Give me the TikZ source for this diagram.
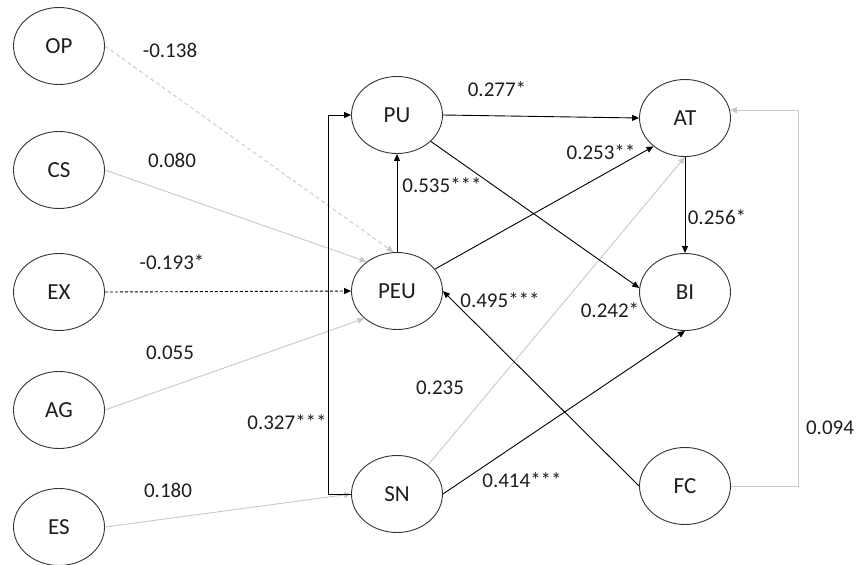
\documentclass[tikz,border=0pt]{standalone}
\usepackage{fontspec}
\setmainfont{Carlito}
\usetikzlibrary{shapes.geometric,arrows.meta}
\definecolor{lgray}{RGB}{200,200,200}
\definecolor{txt}{RGB}{30,30,30}
\begin{document}
\begin{tikzpicture}[x=1pt,y=-1pt,
  lv/.style={draw=black!80,ellipse,minimum width=91pt,minimum height=77pt,inner sep=0pt,line width=0.9pt,text=txt,font=\fontsize{23}{27}\selectfont},
  lbl/.style={text=txt,font=\fontsize{21}{25}\selectfont,inner sep=0pt},
  tip/.style={-{Triangle[length=7pt,width=6pt]}},
  darkarrow/.style={tip,draw=black,line width=0.9pt},
  grayarrow/.style={tip,draw=lgray,line width=0.9pt}]
\useasboundingbox (0,0) rectangle (857,565);
% latent variables
\node[lv] (OP) at (59,46) {OP};
\node[lv] (CS) at (59,170) {CS};
\node[lv] (EX) at (59,292) {EX};
\node[lv] (AG) at (59,410) {AG};
\node[lv] (ES) at (59,527) {ES};
\node[lv] (PU) at (397,115) {PU};
\node[lv] (PEU) at (397,291) {PEU};
\node[lv] (SN) at (397,494) {SN};
\node[lv] (AT) at (685,118) {AT};
\node[lv] (BI) at (685,292) {BI};
\node[lv] (FC) at (685,486) {FC};
% gray (non-significant) paths
\draw[grayarrow,dashed,dash pattern=on 4pt off 3pt] (OP.east) -- (PEU.95);
\draw[grayarrow] (CS.east) -- (PEU.136);
\draw[grayarrow] (AG.east) -- (PEU.220);
\draw[grayarrow] (ES.east) -- (SN.west);
\draw[grayarrow] (SN.43) -- (AT.south);
\draw[grayarrow] (FC.east) -- ++(67,0) |- (AT.10);
% dark (significant) paths
\draw[darkarrow,dash pattern=on 3pt off 2pt] (EX.east) -- (PEU.west);
\draw[darkarrow] (SN.west) -- ++(-23,0) |- (PU.west);
\draw[darkarrow] (PEU.north) -- (PU.south);
\draw[darkarrow] (PU.east) -- (AT.west);
\draw[darkarrow] (PU.322) -- (BI.175);
\draw[darkarrow] (PEU.30) -- (AT.222);
\draw[darkarrow] (AT.south) -- (BI.north);
\draw[darkarrow] (FC.west) -- (PEU.east);
\draw[darkarrow] (SN.east) -- (BI.south);
% labels
\node[lbl] (l1) at (170,50) {-0.138};
\node[lbl] (l2) at (172,160) {0.080};
\node[lbl] (l3) at (172,262) {-0.193*};
\node[lbl] (l4) at (170,353) {0.055};
\node[lbl] (l5) at (168,490) {0.180};
\node[lbl] (l6) at (287,422) {0.327***};
\node[lbl] (l7) at (442,185) {0.535***};
\node[lbl] (l8) at (497,89) {0.277*};
\node[lbl] (l9) at (601,152) {0.253**};
\node[lbl] (l10) at (717,217) {0.256*};
\node[lbl] (l11) at (500,300) {0.495***};
\node[lbl] (l12) at (610,310) {0.242*};
\node[lbl] (l13) at (440,388) {0.235};
\node[lbl] (l14) at (522,480) {0.414***};
\node[lbl] (l15) at (830,428) {0.094};
\end{tikzpicture}
\end{document}
